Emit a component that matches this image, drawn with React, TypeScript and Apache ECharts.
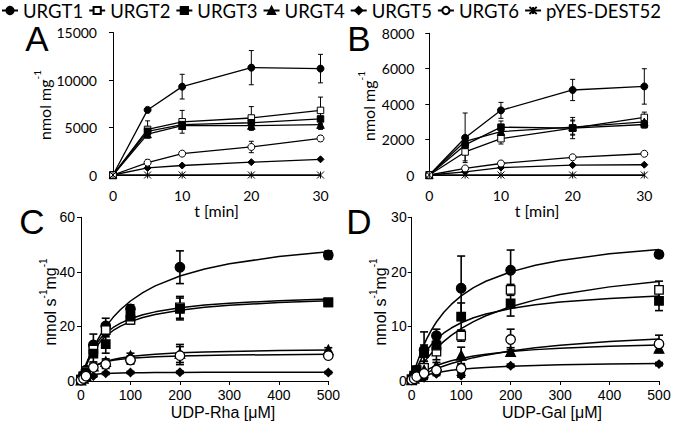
import React, { useEffect, useRef } from 'react';
import * as echarts from 'echarts';

// ---------- categories ----------
const seriesNames = ['URGT1', 'URGT2', 'URGT3', 'URGT4', 'URGT5', 'URGT6', 'pYES-DEST52'];

// ---------- panel A / B: time course (t in min) ----------
const tMin = [0, 5, 10, 20, 30];

const aURGT1 = [0, 6850, 9300, 11300, 11200];
const aURGT2 = [0, 4800, 5600, 6000, 6800];
const aURGT3 = [0, 4600, 5300, 5500, 5900];
const aURGT4 = [0, 4300, 5200, 5200, 5300];
const aURGT5 = [0, 750, 1000, 1350, 1650];
const aURGT6 = [0, 1300, 2250, 2950, 3850];
const aPYES = [0, 0, 0, 0, 0];
const aErr1 = [0, 200, 1300, 1800, 1500];
const aErr2 = [0, 900, 1200, 1200, 1400];
const aErr3 = [0, 500, 500, 700, 600];
const aErr4 = [0, 400, 400, 500, 500];
const aErr5 = [0, 100, 100, 100, 100];
const aErr6 = [0, 300, 200, 600, 300];
const aErr7 = [0, 0, 0, 0, 0];

const bURGT1 = [0, 2100, 3650, 4800, 5000];
const bURGT2 = [0, 1300, 2050, 2650, 3250];
const bURGT3 = [0, 1700, 2700, 2650, 2850];
const bURGT4 = [0, 1900, 2450, 2700, 3000];
const bURGT5 = [0, 180, 420, 560, 580];
const bURGT6 = [0, 370, 650, 1000, 1200];
const bPYES = [0, 0, 0, 0, 0];
const bErr1 = [0, 1400, 450, 600, 1000];
const bErr2 = [0, 500, 300, 600, 300];
const bErr3 = [0, 300, 350, 400, 200];
const bErr4 = [0, 300, 300, 400, 200];
const bErr5 = [0, 50, 50, 50, 50];
const bErr6 = [0, 80, 100, 100, 100];
const bErr7 = [0, 0, 0, 0, 0];

// ---------- panel C / D: kinetics (substrate in µM) ----------
const sConc = [0, 5, 10, 25, 50, 100, 200, 500];

const cURGT1 = [0.5, 2, 4, 13.2, 20.2, 26.4, 41.7, 46.2];
const cURGT2 = [0.5, 1.8, 3.5, 11.5, 18.7, 22.4, 27.0, 28.8];
const cURGT3 = [0.5, 1.5, 3, 10.0, 13.5, 23.6, 26.4, 28.8];
const cURGT4 = [0.3, 1, 2, 5.5, 7.1, 9.2, 10.1, 11.4];
const cURGT5 = [0.2, 0.6, 1.1, 1.8, 2.8, 3.1, 3.2, 3.1];
const cURGT6 = [0.3, 0.9, 1.8, 5.0, 6.1, 7.7, 9.3, 9.3];
const cErr1 = [0, 0, 0, 4, 2.8, 1.5, 6, 1.5];
const cErr2 = [0, 0, 0, 2, 2.5, 1.5, 4, 0.8];
const cErr3 = [0, 0, 0, 3, 3.3, 1.5, 4, 0.8];
const cErr4 = [0, 0, 0, 1, 1, 1, 3.3, 0.8];
const cErr5 = [0, 0, 0, 0.4, 0.4, 0.4, 0.4, 0.4];
const cErr6 = [0, 0, 0, 1, 1.5, 1.5, 3.3, 1];

const dURGT1 = [0.3, 1, 2, 5.7, 8.3, 17.0, 20.3, 23.2];
const dURGT2 = [0.3, 0.6, 1.2, 2.4, 5.4, 8.3, 16.7, 16.7];
const dURGT3 = [0.3, 1, 2, 5.1, 6.5, 11.8, 14.2, 14.7];
const dURGT4 = [0.2, 0.5, 1, 2.0, 2.8, 4.7, 5.4, 6.0];
const dURGT5 = [0.1, 0.3, 0.5, 0.6, 1.3, 1.0, 2.8, 3.1];
const dURGT6 = [0.2, 0.4, 0.8, 1.4, 2.0, 2.3, 7.6, 6.8];
const dErr1 = [0, 0, 0, 3.3, 1.2, 5.9, 3.7, 0.6];
const dErr2 = [0, 0, 0, 1.2, 1.5, 1, 1, 1.6];
const dErr3 = [0, 0, 0, 1.5, 1, 2.5, 2.3, 1.8];
const dErr4 = [0, 0, 0, 0.5, 0.6, 1.5, 0.7, 0.6];
const dErr5 = [0, 0, 0, 0.3, 0.3, 0.3, 0.3, 0.3];
const dErr6 = [0, 0, 0, 0.5, 0.6, 0.7, 1.9, 1.6];

// fitted curves at these concentrations
const fitS = [0, 5, 10, 20, 30, 40, 50, 65, 80, 100, 125, 150, 200, 250, 300, 400, 500];
const cFit1 = [0, 2.92, 5.54, 10.09, 13.88, 17.1, 19.86, 23.33, 26.2, 29.32, 32.41, 34.85, 38.49, 41.06, 42.97, 45.62, 47.38];
const cFit2 = [0, 3.4, 6.15, 10.35, 13.4, 15.71, 17.53, 19.62, 21.2, 22.8, 24.26, 25.34, 26.83, 27.82, 28.51, 29.44, 30.02];
const cFit3 = [0, 3.04, 5.55, 9.47, 12.38, 14.64, 16.43, 18.52, 20.13, 21.76, 23.27, 24.39, 25.97, 27.01, 27.76, 28.75, 29.38];
const cFit4 = [0, 1.53, 2.71, 4.43, 5.62, 6.49, 7.15, 7.9, 8.45, 8.99, 9.48, 9.83, 10.32, 10.63, 10.85, 11.14, 11.32];
const cFit5 = [0, 1.1, 1.65, 2.2, 2.48, 2.64, 2.75, 2.86, 2.93, 3.0, 3.06, 3.09, 3.14, 3.17, 3.19, 3.22, 3.24];
const cFit6 = [0, 1.85, 3.13, 4.79, 5.82, 6.52, 7.02, 7.57, 7.95, 8.32, 8.64, 8.86, 9.16, 9.35, 9.49, 9.65, 9.76];

const dFit1 = [0, 1.66, 3.13, 5.64, 7.68, 9.38, 10.81, 12.59, 14.04, 15.59, 17.1, 18.28, 20.0, 21.2, 22.08, 23.3, 24.09];
const dFit2 = [0, 0.78, 1.52, 2.85, 4.03, 5.08, 6.03, 7.27, 8.36, 9.59, 10.88, 11.95, 13.62, 14.87, 15.84, 17.25, 18.22];
const dFit3 = [0, 1.26, 2.35, 4.14, 5.56, 6.7, 7.65, 8.8, 9.71, 10.67, 11.58, 12.28, 13.28, 13.97, 14.47, 15.14, 15.58];
const dFit4 = [0, 0.42, 0.8, 1.45, 1.99, 2.44, 2.83, 3.31, 3.71, 4.14, 4.57, 4.9, 5.4, 5.75, 6.01, 6.37, 6.6];
const dFit5 = [0, 0.24, 0.46, 0.81, 1.1, 1.33, 1.52, 1.76, 1.95, 2.15, 2.34, 2.49, 2.7, 2.85, 2.96, 3.11, 3.2];
const dFit6 = [0, 0.28, 0.55, 1.04, 1.49, 1.89, 2.26, 2.76, 3.21, 3.72, 4.28, 4.74, 5.5, 6.08, 6.54, 7.22, 7.7];

// tick labels / axis ranges
const aYTicks = [0, 5000, 10000, 15000];
const bYTicks = [0, 2000, 4000, 6000, 8000];
const tTicks = [0, 10, 20, 30];
const sTicks = [0, 100, 200, 300, 400, 500];
const cYTicks = [0, 20, 40, 60];
const dYTicks = [0, 10, 20, 30];

// ---------- styling ----------
const STAR = 'path://M0,0L10,10M10,0L0,10M5,0L5,10';
const markers = [
  { symbol: 'circle', fill: '#000' },
  { symbol: 'rect', fill: '#fff' },
  { symbol: 'rect', fill: '#000' },
  { symbol: 'triangle', fill: '#000' },
  { symbol: 'diamond', fill: '#000' },
  { symbol: 'circle', fill: '#fff' },
  { symbol: STAR, fill: '#000' },
];
const sizesAB = [7, 6.5, 6.5, 7.5, 7, 7, 7];
const sizesCD = [9.5, 8.5, 8.5, 9.5, 8, 9.5, 9];

const errRender = (capHalf: number, width: number) => (params: any, api: any) => {
  const x = api.value(0);
  const y = api.value(1);
  const e = api.value(2);
  if (!e) return null;
  const top = api.coord([x, y + e]);
  const bot = api.coord([x, y - e]);
  const st = { stroke: '#000', lineWidth: width };
  return {
    type: 'group',
    children: [
      { type: 'line', shape: { x1: top[0], y1: top[1], x2: bot[0], y2: bot[1] }, style: st },
      { type: 'line', shape: { x1: top[0] - capHalf, y1: top[1], x2: top[0] + capHalf, y2: top[1] }, style: st },
      { type: 'line', shape: { x1: bot[0] - capHalf, y1: bot[1], x2: bot[0] + capHalf, y2: bot[1] }, style: st },
    ],
  };
};

function timePanel(idx: number, vals: number[][], errs: number[][], tag: string) {
  const out: any[] = [];
  vals.forEach((v, i) => {
    out.push({
      type: 'custom',
      name: tag + '-err-' + i,
      xAxisIndex: idx,
      yAxisIndex: idx,
      renderItem: errRender(2.5, 1),
      data: tMin.map((t, k) => [t, v[k], errs[i][k]]),
      encode: { x: 0, y: 1 },
      z: 2,
      silent: true,
    });
  });
  vals.forEach((v, i) => {
    out.push({
      type: 'line',
      name: seriesNames[i],
      xAxisIndex: idx,
      yAxisIndex: idx,
      data: tMin.map((t, k) => [t, v[k]]),
      symbol: markers[i].symbol,
      symbolSize: sizesAB[i],
      showSymbol: true,
      showAllSymbol: true,
      lineStyle: { color: '#000', width: 1.3 },
      itemStyle: { color: markers[i].fill, borderColor: '#000', borderWidth: 1 },
      z: 3,
    });
  });
  return out;
}

function kinPanel(idx: number, vals: number[][], errs: number[][], fits: number[][], tag: string) {
  const out: any[] = [];
  fits.forEach((f, i) => {
    out.push({
      type: 'line',
      name: tag + '-fit-' + i,
      xAxisIndex: idx,
      yAxisIndex: idx,
      data: fitS.map((s, k) => [s, f[k]]),
      showSymbol: false,
      symbol: 'none',
      smooth: false,
      lineStyle: { color: '#000', width: 1.5 },
      z: 2,
    });
  });
  vals.forEach((v, i) => {
    out.push({
      type: 'custom',
      name: tag + '-err-' + i,
      xAxisIndex: idx,
      yAxisIndex: idx,
      renderItem: errRender(4, 1.6),
      data: sConc.map((s, k) => [s, v[k], errs[i][k]]),
      encode: { x: 0, y: 1 },
      z: 3,
      silent: true,
    });
  });
  vals.forEach((v, i) => {
    out.push({
      type: 'scatter',
      name: tag + '-pts-' + i,
      xAxisIndex: idx,
      yAxisIndex: idx,
      data: sConc.map((s, k) => [s, v[k]]),
      symbol: markers[i].symbol,
      symbolSize: sizesCD[i],
      itemStyle: { color: markers[i].fill, borderColor: '#000', borderWidth: 1.3, opacity: 1 },
      z: 4,
    });
  });
  return out;
}

const LATO = 'Lato';
const ARIAL = 'Liberation Sans';

function xAxisCfg(grid: number, ticks: number[], font: string, margin: number, showTick: boolean) {
  return {
    gridIndex: grid,
    type: 'value',
    min: ticks[0],
    max: ticks[ticks.length - 1],
    interval: ticks[1] - ticks[0],
    axisLine: { show: true, onZero: false, lineStyle: { color: '#000', width: 1 } },
    axisTick: { show: showTick, length: 4, lineStyle: { color: '#000', width: 1 } },
    splitLine: { show: false },
    axisLabel: { margin, fontFamily: font, fontSize: 14, color: '#000', formatter: (v: number) => String(v) },
  };
}
function yAxisCfg(grid: number, ticks: number[], font: string, margin: number) {
  return {
    gridIndex: grid,
    type: 'value',
    min: ticks[0],
    max: ticks[ticks.length - 1],
    interval: ticks[1] - ticks[0],
    axisLine: { show: true, onZero: false, lineStyle: { color: '#000', width: 1 } },
    axisTick: { show: true, length: 4, lineStyle: { color: '#000', width: 1 } },
    splitLine: { show: false },
    axisLabel: { margin, fontFamily: font, fontSize: 14, color: '#000', formatter: (v: number) => String(v) },
  };
}

function rotTitle(x: number, y: number, main: string, sup1: string, main2: string, sup2: string, font: string) {
  const text = main2
    ? '{a|' + main + '}{b|' + sup1 + '}{a|' + main2 + '}{b|' + sup2 + '}'
    : '{a|' + main + '}{b|' + sup1 + '}';
  return {
    type: 'text',
    x,
    y,
    rotation: Math.PI / 2,
    style: {
      text,
      align: 'center',
      verticalAlign: 'middle',
      fill: '#000',
      rich: {
        a: { fontFamily: font, fontSize: 16, fill: '#000', lineHeight: 20, verticalAlign: 'bottom' },
        b: { fontFamily: font, fontSize: 10, fill: '#000', lineHeight: 20, verticalAlign: 'top' },
      },
    },
  };
}
function title(x: number, y: number, text: string, font: string) {
  return {
    type: 'text',
    x,
    y,
    style: { text, align: 'center', verticalAlign: 'middle', fill: '#000', fontFamily: font, fontSize: 16 },
  };
}
function letter(x: number, y: number, text: string) {
  return {
    type: 'text',
    x,
    y,
    style: { text, align: 'center', verticalAlign: 'middle', fill: '#000', fontFamily: ARIAL, fontSize: 35 },
  };
}

export default function App() {
  const ref = useRef<HTMLDivElement>(null);
  useEffect(() => {
    if (!ref.current) return;
    const chart = echarts.init(ref.current, undefined, { renderer: 'svg' });
    const series = [
      ...timePanel(0, [aURGT1, aURGT2, aURGT3, aURGT4, aURGT5, aURGT6, aPYES], [aErr1, aErr2, aErr3, aErr4, aErr5, aErr6, aErr7], 'A'),
      ...timePanel(1, [bURGT1, bURGT2, bURGT3, bURGT4, bURGT5, bURGT6, bPYES], [bErr1, bErr2, bErr3, bErr4, bErr5, bErr6, bErr7], 'B'),
      ...kinPanel(2, [cURGT1, cURGT2, cURGT3, cURGT4, cURGT5, cURGT6], [cErr1, cErr2, cErr3, cErr4, cErr5, cErr6],
        [cFit1, cFit2, cFit3, cFit4, cFit5, cFit6], 'C'),
      ...kinPanel(3, [dURGT1, dURGT2, dURGT3, dURGT4, dURGT5, dURGT6], [dErr1, dErr2, dErr3, dErr4, dErr5, dErr6],
        [dFit1, dFit2, dFit3, dFit4, dFit5, dFit6], 'D'),
    ];
    chart.setOption({
      animation: false,
      backgroundColor: '#fff',
      legend: {
        data: seriesNames,
        left: 1,
        top: 1,
        width: 679,
        padding: 0,
        itemGap: 5,
        itemWidth: 16,
        itemHeight: 9,
        selectedMode: false,
        textStyle: { fontFamily: LATO, fontSize: 18.5, color: '#000' },
      },
      grid: [
        { left: 113, top: 32.5, width: 207.5, height: 142.5 },
        { left: 429.3, top: 33.3, width: 215, height: 141.7 },
        { left: 81, top: 217.3, width: 247.3, height: 163.7 },
        { left: 411.7, top: 217.3, width: 247.3, height: 163.7 },
      ],
      xAxis: [
        xAxisCfg(0, tTicks, LATO, 13, false),
        xAxisCfg(1, tTicks, LATO, 13, false),
        xAxisCfg(2, sTicks, ARIAL, 7, true),
        xAxisCfg(3, sTicks, ARIAL, 7, true),
      ],
      yAxis: [
        yAxisCfg(0, aYTicks, LATO, 16),
        yAxisCfg(1, bYTicks, LATO, 15),
        yAxisCfg(2, cYTicks, ARIAL, 6),
        yAxisCfg(3, dYTicks, ARIAL, 5),
      ],
      graphic: [
        letter(37, 38, 'A'),
        letter(359, 38, 'B'),
        letter(32, 221, 'C'),
        letter(359, 221, 'D'),
        rotTitle(42, 105, 'nmol mg', '-1', '', '', LATO),
        rotTitle(366, 106, 'nmol mg', '-1', '', '', LATO),
        rotTitle(48, 302, 'nmol s', '-1', 'mg', '-1', ARIAL),
        rotTitle(378, 302, 'nmol s', '-1', 'mg', '-1', ARIAL),
        title(216.5, 210, 't [min]', LATO),
        title(537, 210, 't [min]', LATO),
        title(223, 412, 'UDP-Rha [μM]', ARIAL),
        title(552, 412, 'UDP-Gal [μM]', ARIAL),
      ],
      series,
    });
    return () => chart.dispose();
  }, []);
  return <div ref={ref} style={{ position: 'fixed', left: 0, top: 0, width: 680, height: 428 }} />;
}
